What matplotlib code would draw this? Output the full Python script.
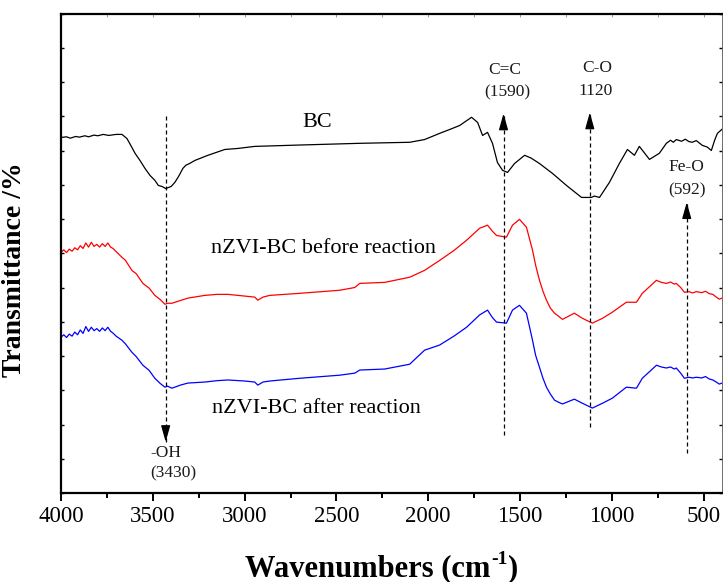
import matplotlib
matplotlib.use("Agg")
import matplotlib.pyplot as plt
from matplotlib.ticker import MultipleLocator, NullFormatter

plt.rcParams['font.family'] = ['Liberation Serif', 'DejaVu Serif']

# FTIR spectra (wavenumber in cm^-1, offset transmittance in arbitrary units)
bc_wn = [4000, 3970, 3950, 3920, 3900, 3870, 3850, 3820, 3800, 3770, 3740, 3700,
         3668, 3641, 3620, 3597, 3570, 3543, 3515, 3489, 3470, 3450, 3430, 3400,
         3380, 3360, 3336, 3320, 3300, 3271, 3200, 3108, 3037, 2945, 2700, 2373,
         2101, 2020, 1938, 1880, 1829, 1764, 1731, 1704, 1677, 1650, 1623, 1595,
         1568, 1530, 1475, 1440, 1394, 1323, 1247, 1165, 1111, 1095, 1067, 1013,
         959, 915, 877, 850, 795, 741, 703, 680, 665, 649, 620, 600, 580, 562,
         540, 507, 480, 458, 440, 425, 400]
bc_t = [10.38, 10.40, 10.36, 10.41, 10.39, 10.43, 10.40, 10.45, 10.43, 10.47, 10.44, 10.47,
        10.47, 10.35, 10.15, 9.92, 9.71, 9.48, 9.27, 9.13, 8.98, 8.95, 8.89, 8.95,
        9.07, 9.24, 9.48, 9.57, 9.62, 9.71, 9.86, 10.03, 10.06, 10.12, 10.16, 10.21,
        10.24, 10.32, 10.50, 10.62, 10.73, 10.97, 10.82, 10.44, 10.53, 10.21, 9.65, 9.42,
        9.36, 9.62, 9.86, 9.78, 9.62, 9.33, 8.98, 8.63, 8.63, 8.67, 8.63, 9.07,
        9.62, 10.03, 9.86, 10.12, 9.74, 9.92, 10.21, 10.30, 10.24, 10.32, 10.27, 10.33, 10.26, 10.24,
        10.29, 10.15, 10.10, 10.00, 10.30, 10.50, 10.62]

red_wn = [4000, 3985, 3970, 3955, 3940, 3925, 3910, 3895, 3880, 3865, 3850, 3835,
          3820, 3805, 3790, 3775, 3760, 3745, 3730, 3717, 3700, 3668, 3650, 3614,
          3590, 3554, 3520, 3489, 3460, 3434, 3420, 3396, 3350, 3309, 3217, 3150,
          3091, 3000, 2945, 2928, 2900, 2863, 2700, 2482, 2400, 2373, 2237, 2101,
          2020, 1938, 1860, 1791, 1720, 1677, 1650, 1628, 1574, 1541, 1503, 1465,
          1432, 1415, 1394, 1375, 1356, 1335, 1312, 1290, 1269, 1204, 1160, 1106,
          1051, 997, 921, 866, 834, 757, 730, 703, 680, 660, 649, 625, 605, 580,
          560, 540, 510, 490, 469, 450, 431, 415, 400]
red_t = [7.03, 7.10, 7.02, 7.12, 7.06, 7.16, 7.10, 7.22, 7.14, 7.30, 7.18, 7.32,
         7.20, 7.26, 7.18, 7.28, 7.20, 7.30, 7.18, 7.14, 7.05, 6.88, 6.80, 6.50,
         6.40, 6.12, 5.98, 5.77, 5.65, 5.51, 5.54, 5.54, 5.62, 5.69, 5.77, 5.80,
         5.80, 5.75, 5.72, 5.63, 5.72, 5.77, 5.83, 5.92, 6.00, 6.12, 6.15, 6.30,
         6.50, 6.79, 7.08, 7.38, 7.73, 7.82, 7.64, 7.52, 7.47, 7.82, 7.99, 7.76,
         7.09, 6.65, 6.21, 5.89, 5.63, 5.40, 5.25, 5.16, 5.07, 5.25, 5.10, 4.96,
         5.10, 5.28, 5.57, 5.57, 5.83, 6.21, 6.15, 6.12, 6.16, 6.10, 6.12, 6.00, 5.86, 5.88,
         5.84, 5.88, 5.85, 5.89, 5.82, 5.80, 5.72, 5.66, 5.69]

blue_wn = red_wn
blue_t = [4.55, 4.62, 4.54, 4.64, 4.58, 4.70, 4.62, 4.76, 4.66, 4.86, 4.72, 4.84,
          4.74, 4.80, 4.72, 4.82, 4.74, 4.84, 4.72, 4.67, 4.58, 4.46, 4.36, 4.11,
          3.98, 3.73, 3.58, 3.35, 3.20, 3.09, 3.12, 3.06, 3.15, 3.21, 3.24, 3.28,
          3.30, 3.27, 3.24, 3.15, 3.24, 3.27, 3.35, 3.44, 3.50, 3.59, 3.62, 3.76,
          4.17, 4.32, 4.58, 4.84, 5.20, 5.34, 5.12, 4.99, 4.96, 5.34, 5.48, 5.25,
          4.46, 4.02, 3.67, 3.35, 3.09, 2.89, 2.71, 2.65, 2.60, 2.74, 2.62, 2.48,
          2.62, 2.77, 3.09, 3.06, 3.35, 3.73, 3.68, 3.65, 3.68, 3.62, 3.65, 3.50, 3.35, 3.38,
          3.36, 3.38, 3.36, 3.40, 3.33, 3.30, 3.24, 3.18, 3.21]

series_labels = ["BC", "nZVI-BC before reaction", "nZVI-BC after reaction"]
series_colors = ["black", "#ff0000", "#0000ff"]

# Band assignments: (wavenumber, name, position text)
bands = [(3430, "-OH", "(3430)"), (1590, "C=C", "(1590)"),
         (1120, "C-O", "1120"), (592, "Fe-O", "(592)")]

W, H = 723, 582
fig = plt.figure(figsize=(W / 100, H / 100), dpi=100)
ax = fig.add_axes([0.0844, 0.1529, 0.9142, 0.8239])

for wn, t, c in zip([bc_wn, red_wn, blue_wn], [bc_t, red_t, blue_t], series_colors):
    ax.plot(wn, t, color=c, lw=0.9)

ax.set_xlim(4000, 400)
ax.set_ylim(0, 14)

# curve labels
ax.text(2607, 10.82, series_labels[0], fontsize=16, ha='center', va='center')
ax.text(2572, 7.14, series_labels[1], fontsize=16, ha='center', va='center')
ax.text(2607, 2.48, series_labels[2], fontsize=16, ha='center', va='center')

dash = (0, (3.2, 2.4))
ann_fs = 12.5
tc = '#1a1a1a'


def arrow(x, y_from, y_tip):
    ax.plot([x, x], [y_from, y_tip], color='black', lw=0.9, linestyle=dash)
    head = 0.42 if y_tip > y_from else -0.42
    ax.annotate('', xy=(x, y_tip), xytext=(x, y_tip - head),
                arrowprops=dict(arrowstyle='-|>,head_length=1.0,head_width=0.28',
                                color='black', lw=0.9, mutation_scale=10,
                                shrinkA=0, shrinkB=0))


# -OH : arrow pointing down
w, name, pos = bands[0]
arrow(w, 11.02, 1.49)
ax.text(3512, 1.17, name, fontsize=ann_fs, ha='left', va='center', color=tc)
ax.text(3512, 0.58, pos, fontsize=ann_fs, ha='left', va='center', color=tc)

# C=C
w, name, pos = bands[1]
arrow(w, 1.69, 11.08)
ax.text(w - 8, 12.36, name, fontsize=ann_fs, ha='center', va='center', color=tc)
ax.text(w - 20, 11.69, pos, fontsize=ann_fs, ha='center', va='center', color=tc)

# C-O
w, name, pos = bands[2]
arrow(w, 1.92, 11.11)
ax.text(w - 40, 12.42, name, fontsize=ann_fs, ha='center', va='center', color=tc)
ax.text(w - 30, 11.75, pos, fontsize=ann_fs, ha='center', va='center', color=tc)

# Fe-O
w, name, pos = bands[3]
arrow(w, 1.17, 8.49)
ax.text(w, 9.51, name, fontsize=ann_fs, ha='center', va='center', color=tc)
ax.text(w, 8.84, pos, fontsize=ann_fs, ha='center', va='center', color=tc)

# axes styling
for side in ['left', 'top', 'bottom']:
    ax.spines[side].set_linewidth(1.6)
ax.spines['right'].set_linewidth(0.6)
ax.spines['right'].set_color('#555555')

ax.xaxis.set_major_locator(MultipleLocator(500))
ax.xaxis.set_minor_locator(MultipleLocator(250))
ax.yaxis.set_major_locator(MultipleLocator(1))
ax.yaxis.set_major_formatter(NullFormatter())
ax.tick_params(axis='x', which='major', direction='out', length=6, width=1.4,
               labelsize=16.5, pad=3, top=False)
ax.tick_params(axis='x', which='minor', direction='out', length=3.5, width=1.4, top=False)
ax.tick_params(axis='y', which='major', direction='in', length=2, width=1.0,
               left=True, right=True)

# faint inward ticks along the top edge
top = ax.secondary_xaxis('top')
top.xaxis.set_major_locator(MultipleLocator(250))
top.xaxis.set_major_formatter(NullFormatter())
top.tick_params(axis='x', direction='in', length=2, width=0.6, colors='#888888')
top.spines['top'].set_visible(False)

ax.set_ylabel("Transmittance /%", fontsize=20, fontweight='bold')
ax.yaxis.set_label_coords(-0.051, 0.465)

# x label with a hyphen superscript, assembled from pieces
fig.canvas.draw()
renderer = fig.canvas.get_renderer()
t1 = fig.text(0, 0, "Wavenumbers (cm", fontsize=22, fontweight='bold', va='baseline')
t2 = fig.text(0, 0, "-1", fontsize=14, fontweight='bold', va='baseline')
t3 = fig.text(0, 0, ")", fontsize=22, fontweight='bold', va='baseline')
w1 = t1.get_window_extent(renderer).width
w2 = t2.get_window_extent(renderer).width
w3 = t3.get_window_extent(renderer).width
x0 = 381 - (w1 + w2 + w3) / 2
base = H - 576
t1.set_position((x0 / W, base / H))
t2.set_position(((x0 + w1 + 1) / W, (base + 12) / H))
t3.set_position(((x0 + w1 + w2 + 1) / W, base / H))

fig.savefig("out.png", dpi=100)
